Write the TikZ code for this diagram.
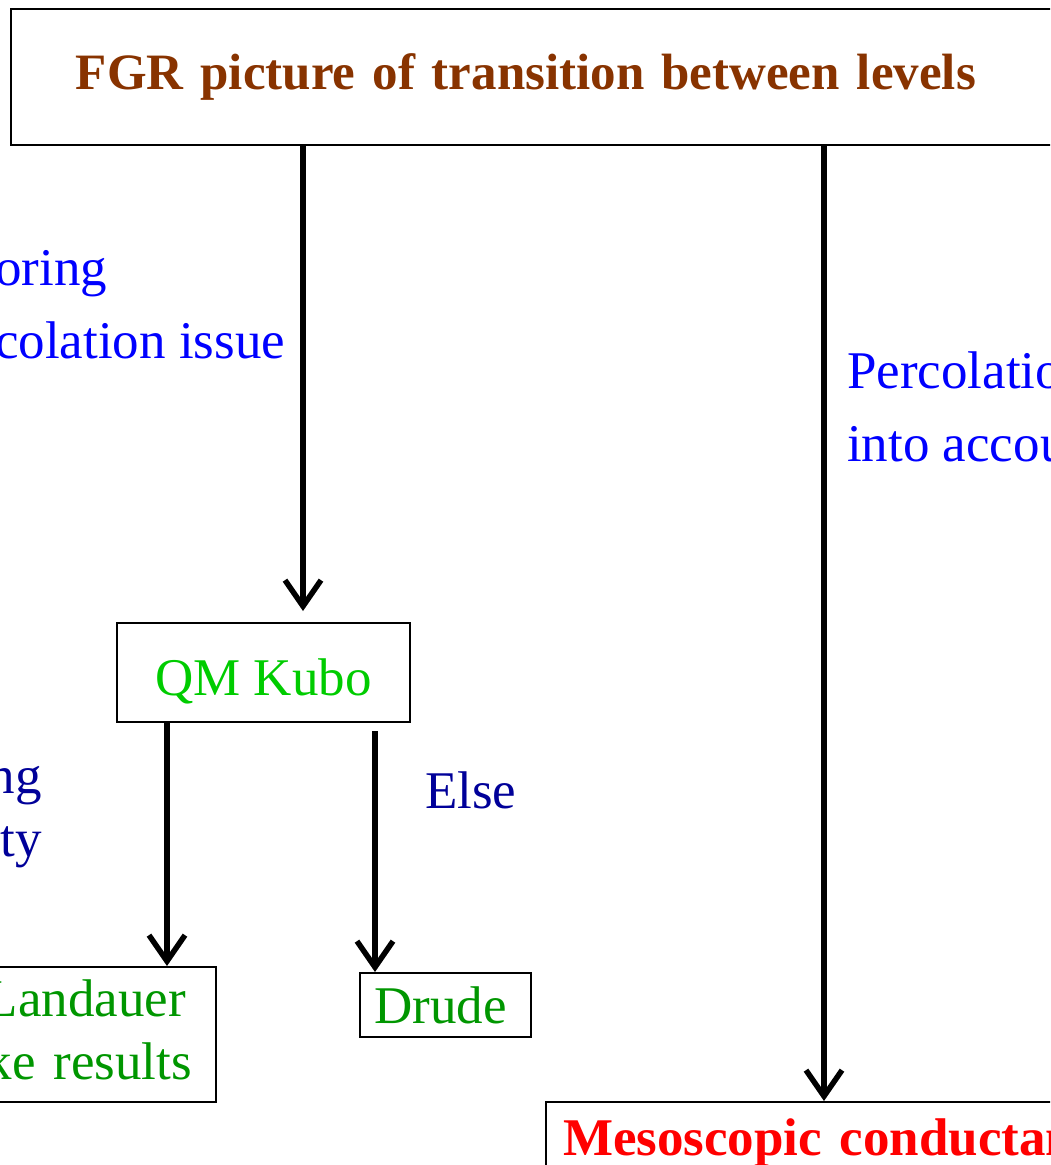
\documentclass[tikz,border=0pt]{standalone}
\usepackage{fontspec}
\setmainfont{Liberation Serif}
\usetikzlibrary{arrows.meta}
\definecolor{fgrBrown}{RGB}{136,51,0}
\definecolor{pathBlue}{RGB}{0,0,255}
\definecolor{pathNavy}{RGB}{0,0,153}
\definecolor{kuboGreen}{RGB}{0,204,0}
\definecolor{resGreen}{RGB}{0,150,0}
\definecolor{mesoRed}{RGB}{255,0,0}
\begin{document}
\begin{tikzpicture}[x=1pt, y=-1pt,
  box/.style={draw, line width=2pt, inner sep=0pt},
  arr/.style={-{Straight Barb[length=26pt, width=36pt]}, line width=5.5pt},
  big/.style={font=\fontsize{53}{73}\selectfont}]
\useasboundingbox (0,0) rectangle (1050,1165);
\clip (0,0) rectangle (1050,1165);
\node[box, anchor=north west, minimum height=136pt, text width=1100pt, align=left,
  font=\fontsize{51}{61}\selectfont\bfseries, text=fgrBrown] (fgr) at (10,8)
  {\hspace*{65pt}FGR picture of transition between levels};
\node[box, big, minimum width=293pt, minimum height=99pt, text height=45pt, text depth=0pt,
  text=kuboGreen] (kubo) at (263.5,672.5) {QM Kubo};
\node[box, big, anchor=north east, minimum height=135pt, text width=260pt, align=right,
  font=\fontsize{53}{63}\selectfont, text=resGreen] (land) at (217,966)
  {Landauer\kern30pt\\ke results\kern24pt\\[-53pt]\mbox{}};
\node[box, big, minimum width=171pt, minimum height=64pt, text=resGreen] (drude) at (445.5,1005) {Drude\kern10pt};
\node[box, anchor=north west, text width=600pt, inner xsep=17pt, inner ysep=11pt, text height=42pt, text depth=40pt,
  align=left, font=\fontsize{53}{63}\selectfont\bfseries, text=mesoRed] (meso) at (545,1101) {Mesoscopic conductan};
\node[big, text=pathBlue, anchor=north west, align=left, inner sep=0pt] (ign) at (-5,250) {oring\\colation issue};
\node[big, text=pathBlue, anchor=north west, align=left, inner sep=0pt] (perc) at (847,352) {Percolatio\\into accou};
\node[big, text=pathNavy, anchor=north east, align=right, inner sep=0pt, font=\fontsize{53}{63}\selectfont] (cond) at (42,766) {ng\\ty};
\node[big, text=pathNavy, anchor=north west, inner sep=0pt] (else) at (425,772) {Else};
\draw[arr, shorten >=11pt] (303,0 |- fgr.south) -- (303,0 |- kubo.north);
\draw[arr] (167,0 |- kubo.south) -- (167,0 |- land.north);
\draw[arr, shorten <=8pt] (375,0 |- kubo.south) -- (375,0 |- drude.north);
\draw[arr] (824,0 |- fgr.south) -- (824,0 |- meso.north);
\end{tikzpicture}
\end{document}
